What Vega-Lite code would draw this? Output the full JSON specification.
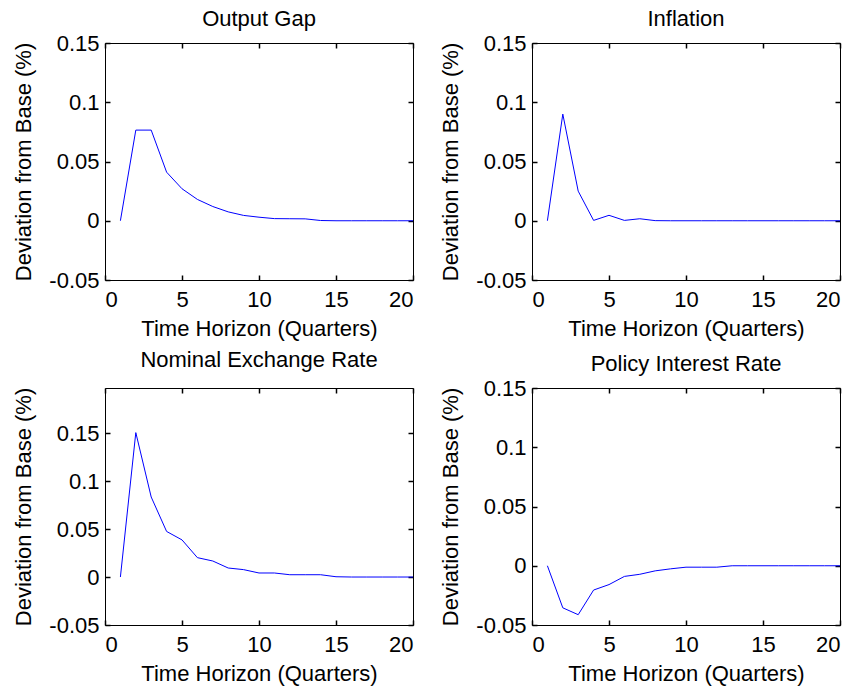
{
  "$schema": "https://vega.github.io/schema/vega-lite/v6.json",
  "background": "white",
  "padding": {"left": 12, "top": 8, "right": 5, "bottom": 5},
  "bounds": "flush",
  "columns": 2,
  "spacing": {"row": 108, "column": 119},
  "data": {"values": [
    {"panel": "Output Gap", "t": 1, "value": 0},
    {"panel": "Output Gap", "t": 2, "value": 0.0765},
    {"panel": "Output Gap", "t": 3, "value": 0.0765},
    {"panel": "Output Gap", "t": 4, "value": 0.041},
    {"panel": "Output Gap", "t": 5, "value": 0.027},
    {"panel": "Output Gap", "t": 6, "value": 0.018},
    {"panel": "Output Gap", "t": 7, "value": 0.012},
    {"panel": "Output Gap", "t": 8, "value": 0.0075},
    {"panel": "Output Gap", "t": 9, "value": 0.0045},
    {"panel": "Output Gap", "t": 10, "value": 0.003},
    {"panel": "Output Gap", "t": 11, "value": 0.0018},
    {"panel": "Output Gap", "t": 12, "value": 0.0017},
    {"panel": "Output Gap", "t": 13, "value": 0.0016},
    {"panel": "Output Gap", "t": 14, "value": 0.0002},
    {"panel": "Output Gap", "t": 15, "value": 0},
    {"panel": "Output Gap", "t": 16, "value": 0},
    {"panel": "Output Gap", "t": 17, "value": 0},
    {"panel": "Output Gap", "t": 18, "value": 0},
    {"panel": "Output Gap", "t": 19, "value": 0},
    {"panel": "Output Gap", "t": 20, "value": 0},
    {"panel": "Inflation", "t": 1, "value": 0},
    {"panel": "Inflation", "t": 2, "value": 0.09},
    {"panel": "Inflation", "t": 3, "value": 0.025},
    {"panel": "Inflation", "t": 4, "value": 0.0003},
    {"panel": "Inflation", "t": 5, "value": 0.0046},
    {"panel": "Inflation", "t": 6, "value": 0.0003},
    {"panel": "Inflation", "t": 7, "value": 0.0017},
    {"panel": "Inflation", "t": 8, "value": 0.0001},
    {"panel": "Inflation", "t": 9, "value": 0},
    {"panel": "Inflation", "t": 10, "value": 0},
    {"panel": "Inflation", "t": 11, "value": 0},
    {"panel": "Inflation", "t": 12, "value": 0},
    {"panel": "Inflation", "t": 13, "value": 0},
    {"panel": "Inflation", "t": 14, "value": 0},
    {"panel": "Inflation", "t": 15, "value": 0},
    {"panel": "Inflation", "t": 16, "value": 0},
    {"panel": "Inflation", "t": 17, "value": 0},
    {"panel": "Inflation", "t": 18, "value": 0},
    {"panel": "Inflation", "t": 19, "value": 0},
    {"panel": "Inflation", "t": 20, "value": 0},
    {"panel": "Nominal Exchange Rate", "t": 1, "value": 0},
    {"panel": "Nominal Exchange Rate", "t": 2, "value": 0.1505},
    {"panel": "Nominal Exchange Rate", "t": 3, "value": 0.0834},
    {"panel": "Nominal Exchange Rate", "t": 4, "value": 0.0475},
    {"panel": "Nominal Exchange Rate", "t": 5, "value": 0.0387},
    {"panel": "Nominal Exchange Rate", "t": 6, "value": 0.0202},
    {"panel": "Nominal Exchange Rate", "t": 7, "value": 0.0167},
    {"panel": "Nominal Exchange Rate", "t": 8, "value": 0.0094},
    {"panel": "Nominal Exchange Rate", "t": 9, "value": 0.0077},
    {"panel": "Nominal Exchange Rate", "t": 10, "value": 0.0042},
    {"panel": "Nominal Exchange Rate", "t": 11, "value": 0.0042},
    {"panel": "Nominal Exchange Rate", "t": 12, "value": 0.0024},
    {"panel": "Nominal Exchange Rate", "t": 13, "value": 0.0024},
    {"panel": "Nominal Exchange Rate", "t": 14, "value": 0.0024},
    {"panel": "Nominal Exchange Rate", "t": 15, "value": 0.0003},
    {"panel": "Nominal Exchange Rate", "t": 16, "value": 0},
    {"panel": "Nominal Exchange Rate", "t": 17, "value": 0},
    {"panel": "Nominal Exchange Rate", "t": 18, "value": 0},
    {"panel": "Nominal Exchange Rate", "t": 19, "value": 0},
    {"panel": "Nominal Exchange Rate", "t": 20, "value": 0},
    {"panel": "Policy Interest Rate", "t": 1, "value": 0},
    {"panel": "Policy Interest Rate", "t": 2, "value": -0.0355},
    {"panel": "Policy Interest Rate", "t": 3, "value": -0.0413},
    {"panel": "Policy Interest Rate", "t": 4, "value": -0.0205},
    {"panel": "Policy Interest Rate", "t": 5, "value": -0.0159},
    {"panel": "Policy Interest Rate", "t": 6, "value": -0.009},
    {"panel": "Policy Interest Rate", "t": 7, "value": -0.0072},
    {"panel": "Policy Interest Rate", "t": 8, "value": -0.0043},
    {"panel": "Policy Interest Rate", "t": 9, "value": -0.0026},
    {"panel": "Policy Interest Rate", "t": 10, "value": -0.0012},
    {"panel": "Policy Interest Rate", "t": 11, "value": -0.0012},
    {"panel": "Policy Interest Rate", "t": 12, "value": -0.0012},
    {"panel": "Policy Interest Rate", "t": 13, "value": 0},
    {"panel": "Policy Interest Rate", "t": 14, "value": 0},
    {"panel": "Policy Interest Rate", "t": 15, "value": 0},
    {"panel": "Policy Interest Rate", "t": 16, "value": 0},
    {"panel": "Policy Interest Rate", "t": 17, "value": 0},
    {"panel": "Policy Interest Rate", "t": 18, "value": 0},
    {"panel": "Policy Interest Rate", "t": 19, "value": 0},
    {"panel": "Policy Interest Rate", "t": 20, "value": 0}
  ]},
  "config": {
    "font": "Liberation Sans",
    "view": {"stroke": null, "fill": null},
    "axis": {
      "grid": false,
      "domain": true,
      "domainColor": "#000000",
      "domainWidth": 1,
      "ticks": true,
      "tickColor": "#000000",
      "tickSize": -5,
      "tickWidth": 1.5,
      "labelFont": "Liberation Sans",
      "labelFontSize": 22,
      "labelColor": "black",
      "titleFont": "Liberation Sans",
      "titleFontSize": 22,
      "titleFontWeight": "normal",
      "titleColor": "black"
    },
    "axisBottom": {"labelPadding": 14, "titlePadding": 8},
    "axisLeft": {"labelPadding": 11, "titlePadding": 13},
    "title": {"font": "Liberation Sans", "fontSize": 22, "fontWeight": "normal", "color": "black", "baseline": "alphabetic"}
  },
  "concat": [
    {
      "title": {"text": "Output Gap", "offset": 1},
      "width": 308, "height": 237,
      "transform": [{"filter": "datum.panel === 'Output Gap'"}],
      "layer": [
        {"mark": {"type": "line", "color": "#0000ff", "strokeWidth": 1},
         "encoding": {
           "x": {"field": "t", "type": "quantitative", "scale": {"domain": [0, 20], "nice": false}, "axis": {"orient": "bottom", "values": [0, 5, 10, 15, 20], "title": "Time Horizon (Quarters)"}},
           "y": {"field": "value", "type": "quantitative", "scale": {"domain": [-0.05, 0.15], "nice": false, "zero": false}, "axis": {"orient": "left", "values": [-0.05, 0, 0.05, 0.1, 0.15], "title": "Deviation from Base (%)", "labelExpr": "datum.value < 0 ? '-' + format(-datum.value, '~g') : format(datum.value, '~g')"}}
         }},
        {"mark": {"type": "line", "opacity": 0},
         "encoding": {
           "x": {"field": "t", "type": "quantitative", "axis": {"orient": "top", "values": [0, 5, 10, 15, 20], "labels": false, "title": null}},
           "y": {"field": "value", "type": "quantitative", "axis": {"orient": "right", "values": [-0.05, 0, 0.05, 0.1, 0.15], "labels": false, "title": null}}
         }}
      ],
      "resolve": {"axis": {"x": "independent", "y": "independent"}}
    },
    {
      "title": {"text": "Inflation", "offset": 1},
      "width": 308, "height": 237,
      "transform": [{"filter": "datum.panel === 'Inflation'"}],
      "layer": [
        {"mark": {"type": "line", "color": "#0000ff", "strokeWidth": 1},
         "encoding": {
           "x": {"field": "t", "type": "quantitative", "scale": {"domain": [0, 20], "nice": false}, "axis": {"orient": "bottom", "values": [0, 5, 10, 15, 20], "title": "Time Horizon (Quarters)"}},
           "y": {"field": "value", "type": "quantitative", "scale": {"domain": [-0.05, 0.15], "nice": false, "zero": false}, "axis": {"orient": "left", "values": [-0.05, 0, 0.05, 0.1, 0.15], "title": "Deviation from Base (%)", "labelExpr": "datum.value < 0 ? '-' + format(-datum.value, '~g') : format(datum.value, '~g')"}}
         }},
        {"mark": {"type": "line", "opacity": 0},
         "encoding": {
           "x": {"field": "t", "type": "quantitative", "axis": {"orient": "top", "values": [0, 5, 10, 15, 20], "labels": false, "title": null}},
           "y": {"field": "value", "type": "quantitative", "axis": {"orient": "right", "values": [-0.05, 0, 0.05, 0.1, 0.15], "labels": false, "title": null}}
         }}
      ],
      "resolve": {"axis": {"x": "independent", "y": "independent"}}
    },
    {
      "title": {"text": "Nominal Exchange Rate", "offset": 15},
      "width": 308, "height": 237,
      "transform": [{"filter": "datum.panel === 'Nominal Exchange Rate'"}],
      "layer": [
        {"mark": {"type": "line", "color": "#0000ff", "strokeWidth": 1},
         "encoding": {
           "x": {"field": "t", "type": "quantitative", "scale": {"domain": [0, 20], "nice": false}, "axis": {"orient": "bottom", "values": [0, 5, 10, 15, 20], "title": "Time Horizon (Quarters)"}},
           "y": {"field": "value", "type": "quantitative", "scale": {"domain": [-0.05, 0.197], "nice": false, "zero": false}, "axis": {"orient": "left", "values": [-0.05, 0, 0.05, 0.1, 0.15], "title": "Deviation from Base (%)", "labelExpr": "datum.value < 0 ? '-' + format(-datum.value, '~g') : format(datum.value, '~g')"}}
         }},
        {"mark": {"type": "line", "opacity": 0},
         "encoding": {
           "x": {"field": "t", "type": "quantitative", "axis": {"orient": "top", "values": [0, 5, 10, 15, 20], "labels": false, "title": null}},
           "y": {"field": "value", "type": "quantitative", "axis": {"orient": "right", "values": [-0.05, 0, 0.05, 0.1, 0.15], "labels": false, "title": null}}
         }}
      ],
      "resolve": {"axis": {"x": "independent", "y": "independent"}}
    },
    {
      "title": {"text": "Policy Interest Rate", "offset": 1},
      "width": 308, "height": 237,
      "transform": [{"filter": "datum.panel === 'Policy Interest Rate'"}],
      "layer": [
        {"mark": {"type": "line", "color": "#0000ff", "strokeWidth": 1},
         "encoding": {
           "x": {"field": "t", "type": "quantitative", "scale": {"domain": [0, 20], "nice": false}, "axis": {"orient": "bottom", "values": [0, 5, 10, 15, 20], "title": "Time Horizon (Quarters)"}},
           "y": {"field": "value", "type": "quantitative", "scale": {"domain": [-0.05, 0.15], "nice": false, "zero": false}, "axis": {"orient": "left", "values": [-0.05, 0, 0.05, 0.1, 0.15], "title": "Deviation from Base (%)", "labelExpr": "datum.value < 0 ? '-' + format(-datum.value, '~g') : format(datum.value, '~g')"}}
         }},
        {"mark": {"type": "line", "opacity": 0},
         "encoding": {
           "x": {"field": "t", "type": "quantitative", "axis": {"orient": "top", "values": [0, 5, 10, 15, 20], "labels": false, "title": null}},
           "y": {"field": "value", "type": "quantitative", "axis": {"orient": "right", "values": [-0.05, 0, 0.05, 0.1, 0.15], "labels": false, "title": null}}
         }}
      ],
      "resolve": {"axis": {"x": "independent", "y": "independent"}}
    }
  ]
}
